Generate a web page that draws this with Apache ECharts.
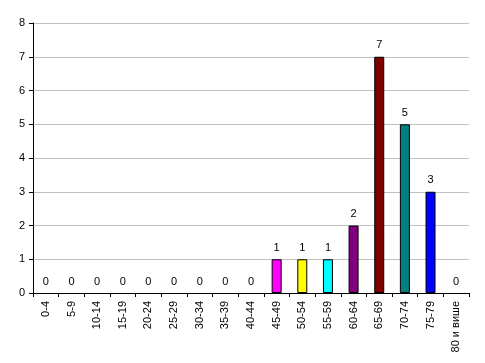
<!DOCTYPE html>
<html>
<head>
<meta charset="utf-8">
<script src="https://cdn.jsdelivr.net/npm/echarts@6/dist/echarts.min.js"></script>
<style>
html,body{margin:0;padding:0;background:#ffffff;}
#c{width:485px;height:363px;}
</style>
</head>
<body>
<div id="c"></div>
<script>
const categories = ['0-4','5-9','10-14','15-19','20-24','25-29','30-34','35-39','40-44','45-49','50-54','55-59','60-64','65-69','70-74','75-79','80 и више'];
const values = [0,0,0,0,0,0,0,0,0,1,1,1,2,7,5,3,0];
const barColors = ['#808080','#808080','#808080','#808080','#808080','#808080','#808080','#808080','#808080','#ff00ff','#ffff00','#00ffff','#800080','#800000','#008080','#0000ff','#808080'];
const yTicks = [0,1,2,3,4,5,6,7,8];

const chart = echarts.init(document.getElementById('c'));
chart.setOption({
  animation:false,
  backgroundColor:'#ffffff',
  grid:{left:33,right:16,top:23,bottom:70,containLabel:false},
  xAxis:{
    type:'category',
    data:categories,
    axisLine:{lineStyle:{color:'#000',width:1}},
    axisTick:{show:true,length:4,lineStyle:{color:'#000'}},
    axisLabel:{rotate:90,color:'#000',fontFamily:'Liberation Sans, Arial, sans-serif',fontSize:11,margin:8}
  },
  yAxis:{
    type:'value',min:0,max:8,interval:1,
    axisLine:{show:true,lineStyle:{color:'#000',width:1}},
    axisTick:{show:true,length:4,lineStyle:{color:'#000'}},
    axisLabel:{color:'#000',fontFamily:'Liberation Sans, Arial, sans-serif',fontSize:11,margin:8,
      formatter:function(v){return yTicks.indexOf(v)>=0?String(v):'';}},
    splitLine:{show:true,lineStyle:{color:'#c0c0c0',width:1}}
  },
  series:[{
    type:'bar',
    data:values.map((v,i)=>({value:v,itemStyle:{color:v===0?'rgba(0,0,0,0)':barColors[i],borderWidth:v===0?0:1}})),
    barWidth:10,
    itemStyle:{borderColor:'#000',borderWidth:1},
    label:{show:true,position:'top',distance:6,color:'#000',fontFamily:'Liberation Sans, Arial, sans-serif',fontSize:11}
  }]
});
</script>
</body>
</html>
